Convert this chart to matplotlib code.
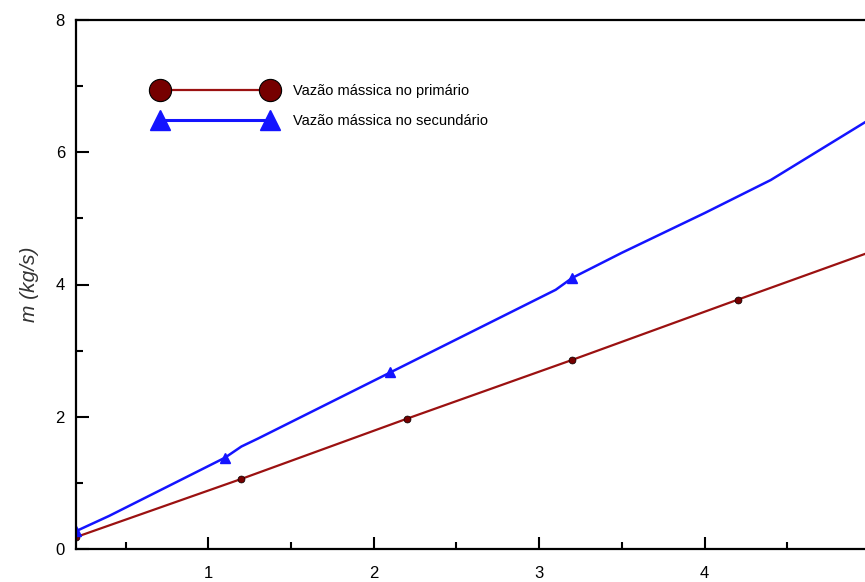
import numpy as np
import matplotlib
matplotlib.use('Agg')
import matplotlib.pyplot as plt
from matplotlib.lines import Line2D
from matplotlib.ticker import MultipleLocator, FixedLocator

plt.rcParams['font.family'] = ['Liberation Sans', 'DejaVu Sans']

# Vazão mássica no primário (kg/s)
x_prim = [0.2, 1.2, 2.2, 3.2, 4.2, 5.0]
m_prim = [0.18, 1.06, 1.97, 2.86, 3.77, 4.49]

# Vazão mássica no secundário (kg/s)
x_sec = [0.2, 0.4, 1.1, 1.2, 1.3, 2.1, 3.1, 3.2, 3.5, 4.0, 4.4, 5.0]
m_sec = [0.27, 0.50, 1.38, 1.55, 1.67, 2.67, 3.92, 4.10, 4.48, 5.08, 5.58, 6.50]

x_ticks = [1, 2, 3, 4]
lbl_prim = 'Vazão mássica no primário'
lbl_sec = 'Vazão mássica no secundário'

C_PRIM = '#9b1111'
C_PRIM_MK = '#760000'
C_SEC = '#1414ff'

fig = plt.figure(figsize=(8.65, 5.82), dpi=100)
ax = fig.add_axes([76 / 865, 33 / 582, 794 / 865, 529 / 582])

ax.plot(x_prim, m_prim, color=C_PRIM, lw=1.6, marker='o', ms=5,
        mfc=C_PRIM_MK, mec='black', mew=0.5, markevery=[0, 1, 2, 3, 4])
ax.plot(x_sec, m_sec, color=C_SEC, lw=1.8, marker='^', ms=7,
        mfc=C_SEC, mec=C_SEC, markevery=[0, 2, 5, 7])

ax.set_xlim(0.2, 5.0)
ax.set_ylim(0, 8)
ax.xaxis.set_major_locator(FixedLocator(x_ticks))
ax.xaxis.set_minor_locator(MultipleLocator(0.5))
ax.yaxis.set_major_locator(MultipleLocator(2))
ax.yaxis.set_minor_locator(MultipleLocator(1))

for s in ax.spines.values():
    s.set_linewidth(1.6)
ax.tick_params(which='both', direction='in', top=False, right=False, width=1.5)
ax.tick_params(which='major', length=9, labelsize=12)
ax.tick_params(axis='x', which='major', pad=12)
ax.tick_params(axis='y', which='major', pad=8)
ax.tick_params(which='minor', length=5)

ax.set_ylabel('m (kg/s)', fontsize=15, style='italic', color='#333333', labelpad=12)

handles = [
    Line2D([], [], color=C_PRIM, lw=1.6, marker='o', ms=16, mfc=C_PRIM_MK,
           mec='black', mew=0.8),
    Line2D([], [], color=C_SEC, lw=2.2, marker='^', ms=15, mfc=C_SEC, mec=C_SEC),
]
ax.legend(handles, [lbl_prim, lbl_sec], loc='upper left',
          bbox_to_anchor=(156 / 865, 1 - 84 / 582), bbox_transform=fig.transFigure,
          frameon=False, fontsize=10.5, numpoints=2, handlelength=8.1,
          handletextpad=1.3, labelspacing=1.12, borderpad=0, borderaxespad=0)

fig.savefig('out.png', dpi=100)
